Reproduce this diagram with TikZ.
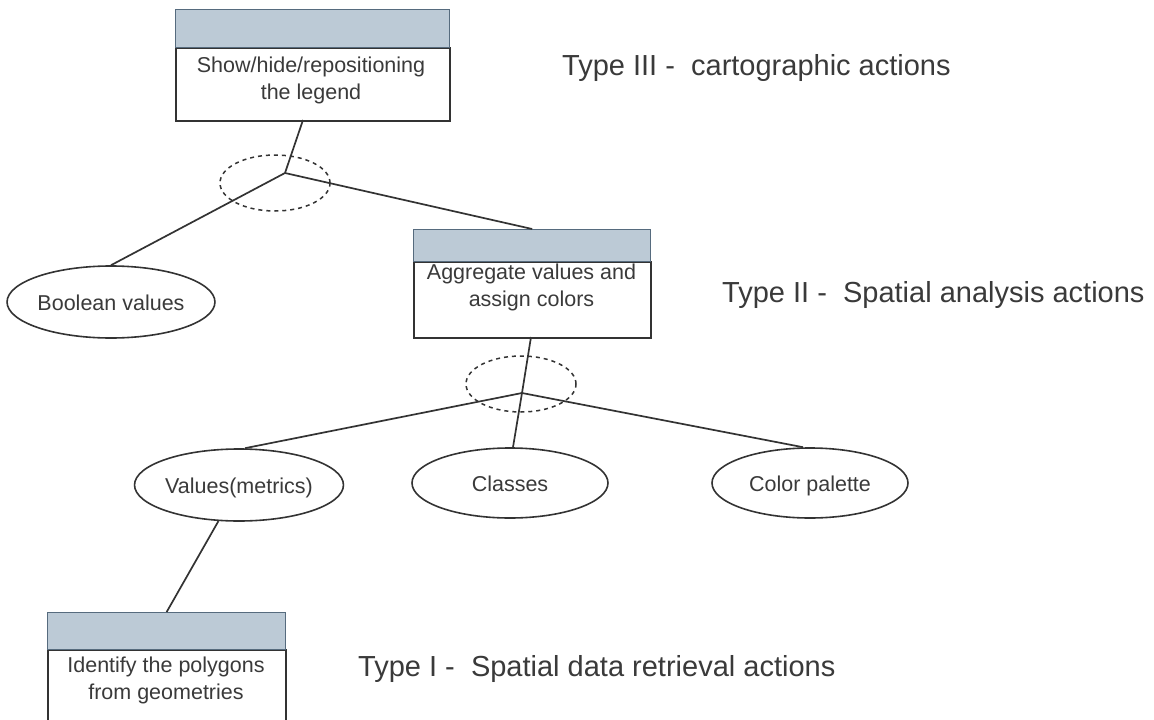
\documentclass[tikz,border=0pt]{standalone}
\usepackage{fontspec}
\setmainfont{Liberation Sans}
\usetikzlibrary{shapes.geometric}

\definecolor{ink}{HTML}{333333}
\definecolor{txt}{HTML}{3A3A3A}
\definecolor{headfill}{HTML}{BCCAD6}
\definecolor{headline}{HTML}{566B7E}

\tikzset{
  boxhead/.style={draw=headline, line width=1.3pt, fill=headfill, rectangle,
    inner sep=0pt, anchor=north west},
  boxbody/.style={draw=ink, line width=1.6pt, fill=white, rectangle,
    inner sep=0pt, anchor=north west},
  boxtext/.style={text=txt, align=center, inner sep=0pt, anchor=north,
    font=\fontsize{21.5}{27}\selectfont},
  leaf/.style={ellipse, draw=ink, line width=1.6pt, minimum width=202pt,
    minimum height=72pt, inner sep=0pt, text=txt, text height=18pt,
    text depth=2pt, font=\fontsize{21.5}{27}\selectfont},
  group/.style={ellipse, draw=ink, line width=1.5pt, dash pattern=on 4pt off 4pt,
    minimum width=110pt, minimum height=56pt, inner sep=0pt},
  link/.style={draw=ink, line width=1.7pt},
  typelabel/.style={text=txt, anchor=west, inner sep=0pt,
    font=\fontsize{29}{34}\selectfont}
}

\begin{document}
\begin{tikzpicture}[x=1pt, y=-1pt]
  \path[use as bounding box, fill=white] (0,0) rectangle (1154,720);

  % Type III box
  \node[boxbody, minimum width=274pt, minimum height=73pt] (b1body) at (175,47) {};
  \node[boxhead, minimum width=274pt, minimum height=38pt] (b1head) at (175,9) {};
  \node[boxtext] (b1text) at (311,57) {Show/hide/repositioning\\the legend};

  % Type II box
  \node[boxbody, minimum width=237pt, minimum height=76pt] (b2body) at (413,261) {};
  \node[boxhead, minimum width=237pt, minimum height=32pt] (b2head) at (413,229) {};
  \node[boxtext] (b2text) at (531.5,264) {Aggregate values and\\assign colors};

  % Type I box
  \node[boxbody, minimum width=238pt, minimum height=90pt] (b3body) at (47,649) {};
  \node[boxhead, minimum width=238pt, minimum height=37pt] (b3head) at (47,612) {};
  \node[boxtext] (b3text) at (166,657) {Identify the polygons\\from geometries};

  % leaves
  \node[leaf] (bool) at (111,302) {Boolean values};
  \node[leaf] (vals) at (239,485) {Values(metrics)};
  \node[leaf, minimum width=196pt, minimum height=70pt] (cls) at (510,483) {Classes};
  \node[leaf, minimum width=196pt, minimum height=70pt] (pal) at (810,483) {Color palette};

  % AND-groups
  \node[group] (g1) at (275,183) {};
  \node[group] (g2) at (521,384) {};
  \coordinate (j1) at (285,173);
  \coordinate (j2) at (522,393);
  \coordinate (t1) at (303,120);
  \coordinate (t2) at (531,337);

  % connectors
  \draw[link] (t1) -- (j1);
  \draw[link] (j1) -- (bool.north);
  \draw[link] (j1) -- (b2head.north);
  \draw[link] (t2) -- (j2);
  \draw[link] (j2) -- ([xshift=6pt]vals.north);
  \draw[link] (j2) -- ([xshift=3pt]cls.north);
  \draw[link] (j2) -- ([xshift=-7pt]pal.north);
  \draw[link] (vals) -- (b3head.north);

  % level labels
  \node[typelabel] (l3) at (562,68) {Type III -\ \ cartographic actions};
  \node[typelabel] (l2) at (722,295) {Type II -\ \ Spatial analysis actions};
  \node[typelabel] (l1) at (358,669) {Type I -\ \ Spatial data retrieval actions};
\end{tikzpicture}
\end{document}
